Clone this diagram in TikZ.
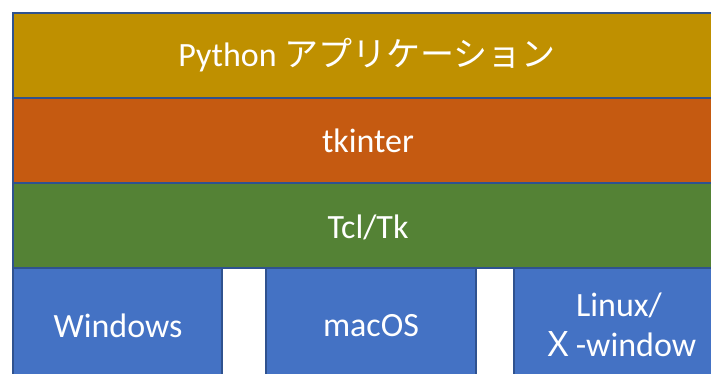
\documentclass[tikz,border=0pt]{standalone}
\usepackage{fontspec}
\setmainfont{Carlito}
\newfontfamily\jp{Noto Sans CJK JP}
\definecolor{gold}{HTML}{BF9000}
\definecolor{rust}{HTML}{C55A11}
\definecolor{leaf}{HTML}{548235}
\definecolor{sky}{HTML}{4472C4}
\definecolor{edge}{HTML}{2F528F}
\tikzset{
  layer/.style={draw=edge, line width=1.2pt, text=white, font=\fontsize{34}{40}\selectfont, inner sep=0pt, align=center},
}
\begin{document}
\begin{tikzpicture}[x=1pt,y=-1pt]
\useasboundingbox (0,0) rectangle (711,374);
\clip (0,0) rectangle (711,374);
\fill[white] (0,0) rectangle (711,374);
\draw[layer, fill=gold] (13,13) rectangle (724,98);
\node[layer, draw=none] (py) at (367,55) {Python {\jp アプリケーション}};
\draw[layer, fill=rust] (13,98) rectangle (724,183);
\node[layer, draw=none] (tk) at (368,141) {tkinter};
\draw[layer, fill=leaf] (13,183) rectangle (724,268);
\node[layer, draw=none] (tcl) at (368,227) {Tcl/Tk};
\draw[layer, fill=sky] (13,268) rectangle (222,386);
\node[layer, draw=none] (win) at (118,326) {Windows};
\draw[layer, fill=sky] (266,268) rectangle (476,386);
\node[layer, draw=none] (mac) at (371,326) {macOS};
\draw[layer, fill=sky] (514,268) rectangle (724,386);
\node[layer, draw=none] (lin) at (619,325) {Linux/\\{\jp Ｘ}-window};
\end{tikzpicture}
\end{document}
